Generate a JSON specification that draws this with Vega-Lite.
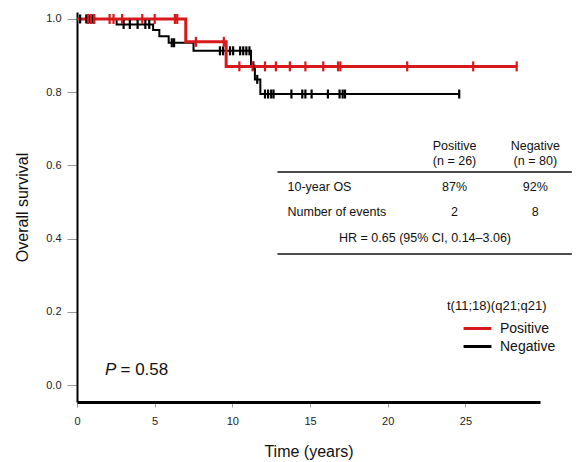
{
  "$schema": "https://vega.github.io/schema/vega-lite/v6.json",
  "width": 463,
  "height": 390,
  "autosize": "none",
  "padding": {"left": 77, "top": 12, "right": 40, "bottom": 60},
  "background": "white",
  "config": {
    "view": {"stroke": null},
    "font": "Liberation Sans",
    "axis": {"grid": false}
  },
  "datasets": {
    "curves": [
      {"group": "Negative", "time": 0, "surv": 1},
      {"group": "Negative", "time": 2.55, "surv": 0.985},
      {"group": "Negative", "time": 4.9, "surv": 0.97},
      {"group": "Negative", "time": 5.3, "surv": 0.953},
      {"group": "Negative", "time": 5.9, "surv": 0.935},
      {"group": "Negative", "time": 7.5, "surv": 0.913},
      {"group": "Negative", "time": 11.2, "surv": 0.872},
      {"group": "Negative", "time": 11.45, "surv": 0.835},
      {"group": "Negative", "time": 11.8, "surv": 0.795},
      {"group": "Negative", "time": 24.6, "surv": 0.795},
      {"group": "Positive", "time": 0, "surv": 1},
      {"group": "Positive", "time": 7.0, "surv": 0.9375},
      {"group": "Positive", "time": 9.6, "surv": 0.8705},
      {"group": "Positive", "time": 28.3, "surv": 0.8705}
    ],
    "censored": [
      {"group": "Negative", "time": 0.2, "surv": 1},
      {"group": "Negative", "time": 0.6, "surv": 1},
      {"group": "Negative", "time": 0.7, "surv": 1},
      {"group": "Negative", "time": 0.8, "surv": 1},
      {"group": "Negative", "time": 0.9, "surv": 1},
      {"group": "Negative", "time": 1.0, "surv": 1},
      {"group": "Negative", "time": 1.1, "surv": 1},
      {"group": "Negative", "time": 3.0, "surv": 0.985},
      {"group": "Negative", "time": 3.4, "surv": 0.985},
      {"group": "Negative", "time": 3.9, "surv": 0.985},
      {"group": "Negative", "time": 4.4, "surv": 0.985},
      {"group": "Negative", "time": 4.65, "surv": 0.985},
      {"group": "Negative", "time": 6.1, "surv": 0.935},
      {"group": "Negative", "time": 6.25, "surv": 0.935},
      {"group": "Negative", "time": 9.2, "surv": 0.913},
      {"group": "Negative", "time": 9.4, "surv": 0.913},
      {"group": "Negative", "time": 9.85, "surv": 0.913},
      {"group": "Negative", "time": 10.05, "surv": 0.913},
      {"group": "Negative", "time": 10.5, "surv": 0.913},
      {"group": "Negative", "time": 10.7, "surv": 0.913},
      {"group": "Negative", "time": 10.9, "surv": 0.913},
      {"group": "Negative", "time": 11.1, "surv": 0.913},
      {"group": "Negative", "time": 11.35, "surv": 0.872},
      {"group": "Negative", "time": 11.6, "surv": 0.835},
      {"group": "Negative", "time": 12.1, "surv": 0.795},
      {"group": "Negative", "time": 12.3, "surv": 0.795},
      {"group": "Negative", "time": 12.5, "surv": 0.795},
      {"group": "Negative", "time": 12.65, "surv": 0.795},
      {"group": "Negative", "time": 13.8, "surv": 0.795},
      {"group": "Negative", "time": 14.5, "surv": 0.795},
      {"group": "Negative", "time": 14.7, "surv": 0.795},
      {"group": "Negative", "time": 15.1, "surv": 0.795},
      {"group": "Negative", "time": 16.15, "surv": 0.795},
      {"group": "Negative", "time": 16.9, "surv": 0.795},
      {"group": "Negative", "time": 17.1, "surv": 0.795},
      {"group": "Negative", "time": 17.25, "surv": 0.795},
      {"group": "Negative", "time": 24.6, "surv": 0.795},
      {"group": "Positive", "time": 0.7, "surv": 1},
      {"group": "Positive", "time": 0.9, "surv": 1},
      {"group": "Positive", "time": 1.1, "surv": 1},
      {"group": "Positive", "time": 2.1, "surv": 1},
      {"group": "Positive", "time": 2.35, "surv": 1},
      {"group": "Positive", "time": 2.9, "surv": 1},
      {"group": "Positive", "time": 4.2, "surv": 1},
      {"group": "Positive", "time": 5.0, "surv": 1},
      {"group": "Positive", "time": 6.3, "surv": 1},
      {"group": "Positive", "time": 6.45, "surv": 1},
      {"group": "Positive", "time": 7.65, "surv": 0.9375},
      {"group": "Positive", "time": 9.45, "surv": 0.9375},
      {"group": "Positive", "time": 10.45, "surv": 0.8705},
      {"group": "Positive", "time": 11.3, "surv": 0.8705},
      {"group": "Positive", "time": 12.1, "surv": 0.8705},
      {"group": "Positive", "time": 12.8, "surv": 0.8705},
      {"group": "Positive", "time": 13.7, "surv": 0.8705},
      {"group": "Positive", "time": 14.7, "surv": 0.8705},
      {"group": "Positive", "time": 15.85, "surv": 0.8705},
      {"group": "Positive", "time": 16.8, "surv": 0.8705},
      {"group": "Positive", "time": 16.95, "surv": 0.8705},
      {"group": "Positive", "time": 21.25, "surv": 0.8705},
      {"group": "Positive", "time": 25.5, "surv": 0.8705},
      {"group": "Positive", "time": 28.3, "surv": 0.8705}
    ]
  },
  "layer": [
    {
      "data": {"name": "curves"},
      "transform": [{"filter": "datum.group === 'Negative'"}],
      "mark": {"type": "line", "interpolate": "step-after", "strokeWidth": 2},
      "encoding": {
        "x": {
          "field": "time", "type": "quantitative",
          "scale": {"domain": [0, 29.8], "nice": false, "zero": false},
          "axis": {
            "values": [0, 5, 10, 15, 20, 25],
            "title": "Time (years)",
            "titleFontSize": 16, "titleFontWeight": "normal", "titleColor": "#111", "titlePadding": 17,
            "labelFontSize": 11, "labelColor": "#222", "labelPadding": 8, "labelFlush": false,
            "tickSize": 5, "tickColor": "#999", "tickWidth": 1,
            "domainColor": "#000", "domainWidth": 3
          }
        },
        "y": {
          "field": "surv", "type": "quantitative",
          "scale": {"domain": [-0.046, 1.019], "nice": false, "zero": false},
          "axis": {
            "values": [0, 0.2, 0.4, 0.6, 0.8, 1.0],
            "format": ".1f",
            "title": "Overall survival",
            "titleFontSize": 16, "titleFontWeight": "normal", "titleColor": "#111", "titlePadding": 15,
            "labelFontSize": 11, "labelColor": "#222", "labelPadding": 6,
            "tickSize": 10, "tickColor": "#999", "tickWidth": 1,
            "domainColor": "#000", "domainWidth": 2
          }
        },
        "color": {
          "field": "group", "type": "nominal",
          "scale": {"domain": ["Positive", "Negative"], "range": ["#d7191c", "#000000"]},
          "legend": {
            "title": "t(11;18)(q21;q21)",
            "orient": "none", "legendX": 370, "legendY": 288,
            "padding": 0,
            "titleFontSize": 13, "titleFontWeight": "normal", "titleColor": "#111", "titlePadding": 5,
            "labelFontSize": 14, "labelColor": "#111", "labelOffset": 12,
            "symbolType": "M-1.55,0H1.55", "symbolStrokeWidth": 3, "symbolSize": 324,
            "symbolOffset": 20, "rowPadding": 0
          }
        }
      }
    },
    {
      "data": {"name": "curves"},
      "transform": [{"filter": "datum.group === 'Positive'"}],
      "mark": {"type": "line", "interpolate": "step-after", "strokeWidth": 3},
      "encoding": {
        "x": {"field": "time", "type": "quantitative"},
        "y": {"field": "surv", "type": "quantitative"},
        "color": {"field": "group", "type": "nominal"}
      }
    },
    {
      "data": {"name": "censored"},
      "transform": [{"filter": "datum.group === 'Negative'"}],
      "mark": {"type": "tick", "orient": "vertical", "size": 9, "thickness": 2.2, "opacity": 1},
      "encoding": {
        "x": {"field": "time", "type": "quantitative"},
        "y": {"field": "surv", "type": "quantitative"},
        "color": {"field": "group", "type": "nominal"}
      }
    },
    {
      "data": {"name": "censored"},
      "transform": [{"filter": "datum.group === 'Positive'"}],
      "mark": {"type": "tick", "orient": "vertical", "size": 10, "thickness": 2.2, "opacity": 1},
      "encoding": {
        "x": {"field": "time", "type": "quantitative"},
        "y": {"field": "surv", "type": "quantitative"},
        "color": {"field": "group", "type": "nominal"}
      }
    },
    {
      "data": {"values": [{}]},
      "mark": {"type": "text", "text": "P", "fontStyle": "italic", "fontSize": 17, "align": "left", "baseline": "middle", "color": "#111"},
      "encoding": {"x": {"datum": 1.8}, "y": {"datum": 0.041}}
    },
    {
      "data": {"values": [{}]},
      "mark": {"type": "text", "text": "= 0.58", "fontSize": 17, "align": "left", "baseline": "middle", "color": "#111"},
      "encoding": {"x": {"datum": 2.8}, "y": {"datum": 0.041}}
    },
    {
      "data": {"values": [{}]},
      "mark": {"type": "text", "text": "Positive", "fontSize": 12.5, "align": "center", "baseline": "middle", "color": "#111"},
      "encoding": {"x": {"datum": 24.3}, "y": {"datum": 0.653}}
    },
    {
      "data": {"values": [{}]},
      "mark": {"type": "text", "text": "(n = 26)", "fontSize": 12.5, "align": "center", "baseline": "middle", "color": "#111"},
      "encoding": {"x": {"datum": 24.3}, "y": {"datum": 0.612}}
    },
    {
      "data": {"values": [{}]},
      "mark": {"type": "text", "text": "Negative", "fontSize": 12.5, "align": "center", "baseline": "middle", "color": "#111"},
      "encoding": {"x": {"datum": 29.5}, "y": {"datum": 0.653}}
    },
    {
      "data": {"values": [{}]},
      "mark": {"type": "text", "text": "(n = 80)", "fontSize": 12.5, "align": "center", "baseline": "middle", "color": "#111"},
      "encoding": {"x": {"datum": 29.5}, "y": {"datum": 0.612}}
    },
    {
      "data": {"values": [{}]},
      "mark": {"type": "rule", "strokeWidth": 1.5, "color": "#111"},
      "encoding": {"x": {"datum": 12.9}, "x2": {"datum": 31.85}, "y": {"datum": 0.582}}
    },
    {
      "data": {"values": [{}]},
      "mark": {"type": "text", "text": "10-year OS", "fontSize": 12.5, "align": "left", "baseline": "middle", "color": "#111"},
      "encoding": {"x": {"datum": 13.55}, "y": {"datum": 0.541}}
    },
    {
      "data": {"values": [{}]},
      "mark": {"type": "text", "text": "87%", "fontSize": 12.5, "align": "center", "baseline": "middle", "color": "#111"},
      "encoding": {"x": {"datum": 24.3}, "y": {"datum": 0.541}}
    },
    {
      "data": {"values": [{}]},
      "mark": {"type": "text", "text": "92%", "fontSize": 12.5, "align": "center", "baseline": "middle", "color": "#111"},
      "encoding": {"x": {"datum": 29.5}, "y": {"datum": 0.541}}
    },
    {
      "data": {"values": [{}]},
      "mark": {"type": "text", "text": "Number of events", "fontSize": 12.5, "align": "left", "baseline": "middle", "color": "#111"},
      "encoding": {"x": {"datum": 13.55}, "y": {"datum": 0.473}}
    },
    {
      "data": {"values": [{}]},
      "mark": {"type": "text", "text": "2", "fontSize": 12.5, "align": "center", "baseline": "middle", "color": "#111"},
      "encoding": {"x": {"datum": 24.3}, "y": {"datum": 0.473}}
    },
    {
      "data": {"values": [{}]},
      "mark": {"type": "text", "text": "8", "fontSize": 12.5, "align": "center", "baseline": "middle", "color": "#111"},
      "encoding": {"x": {"datum": 29.5}, "y": {"datum": 0.473}}
    },
    {
      "data": {"values": [{}]},
      "mark": {"type": "text", "text": "HR = 0.65 (95% CI, 0.14–3.06)", "fontSize": 12.5, "align": "center", "baseline": "middle", "color": "#111"},
      "encoding": {"x": {"datum": 22.4}, "y": {"datum": 0.402}}
    },
    {
      "data": {"values": [{}]},
      "mark": {"type": "rule", "strokeWidth": 1.5, "color": "#111"},
      "encoding": {"x": {"datum": 12.9}, "x2": {"datum": 31.85}, "y": {"datum": 0.358}}
    }
  ]
}
